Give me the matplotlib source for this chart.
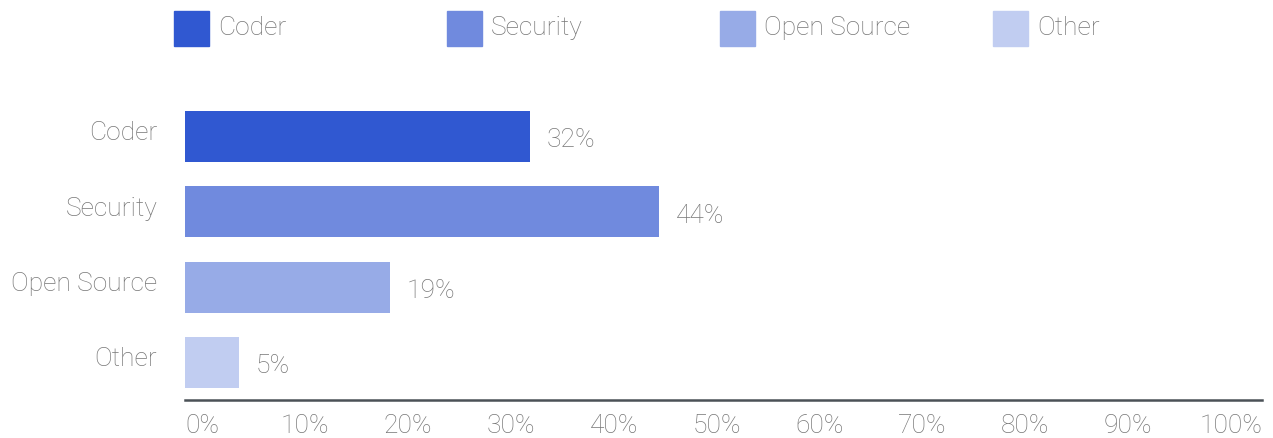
import matplotlib.pyplot as plt
from matplotlib.patches import Rectangle

categories = ["Coder", "Security", "Open Source", "Other"]
shares = [32, 44, 19, 5]
colors = ["#3058d1", "#708ade", "#97abe7", "#c1cdf1"]
tick_labels = ["0%", "10%", "20%", "30%", "40%", "50%", "60%", "70%", "80%", "90%", "100%"]

plt.rcParams["font.family"] = ["Roboto", "DejaVu Sans"]
text_gray = "#777777"
fs = 19

fig = plt.figure(figsize=(12.73, 4.39), dpi=100)
ax = fig.add_axes([185 / 1273, 38 / 439, 1077 / 1273, 301 / 439])

for i, (cat, val, col) in enumerate(zip(categories, shares, colors)):
    ax.barh(i, val, height=0.68, color=col)
    ax.annotate(f"{val}%", xy=(val, i), xytext=(12, -2), textcoords="offset points",
                ha="left", va="center", fontsize=fs, fontweight="light", color=text_gray)
    # category name, sitting slightly above the bar centre
    ax.annotate(cat, xy=(0, i), xytext=(-20, 3), textcoords="offset points",
                ha="right", va="center", fontsize=fs, fontweight="light", color=text_gray,
                annotation_clip=False)

ax.set_xlim(0, 100)
ax.set_ylim(3.5, -0.5)
ax.set_yticks([])

# labels are spread evenly across the full axis width
label_pos = [1.6 + 9.55 * i for i in range(len(tick_labels))]
ax.set_xticks(label_pos)
ax.set_xticklabels(tick_labels, fontsize=fs, fontweight="light", color=text_gray)
ax.tick_params(axis="x", length=0, pad=9.5)

for side in ["top", "right", "left"]:
    ax.spines[side].set_visible(False)
ax.spines["bottom"].set_color("#4b5157")
ax.spines["bottom"].set_linewidth(1.8)

# legend row across the top
for i, (cat, col) in enumerate(zip(categories, colors)):
    x0 = 174 + 273 * i
    fig.patches.append(Rectangle((x0 / 1273, (439 - 47) / 439), 35 / 1273, 35 / 439,
                                 transform=fig.transFigure, color=col))
    fig.text((x0 + 44) / 1273, (439 - 28) / 439, cat, ha="left", va="center",
             fontsize=fs, fontweight="light", color=text_gray)

fig.savefig("out.png", dpi=100)
